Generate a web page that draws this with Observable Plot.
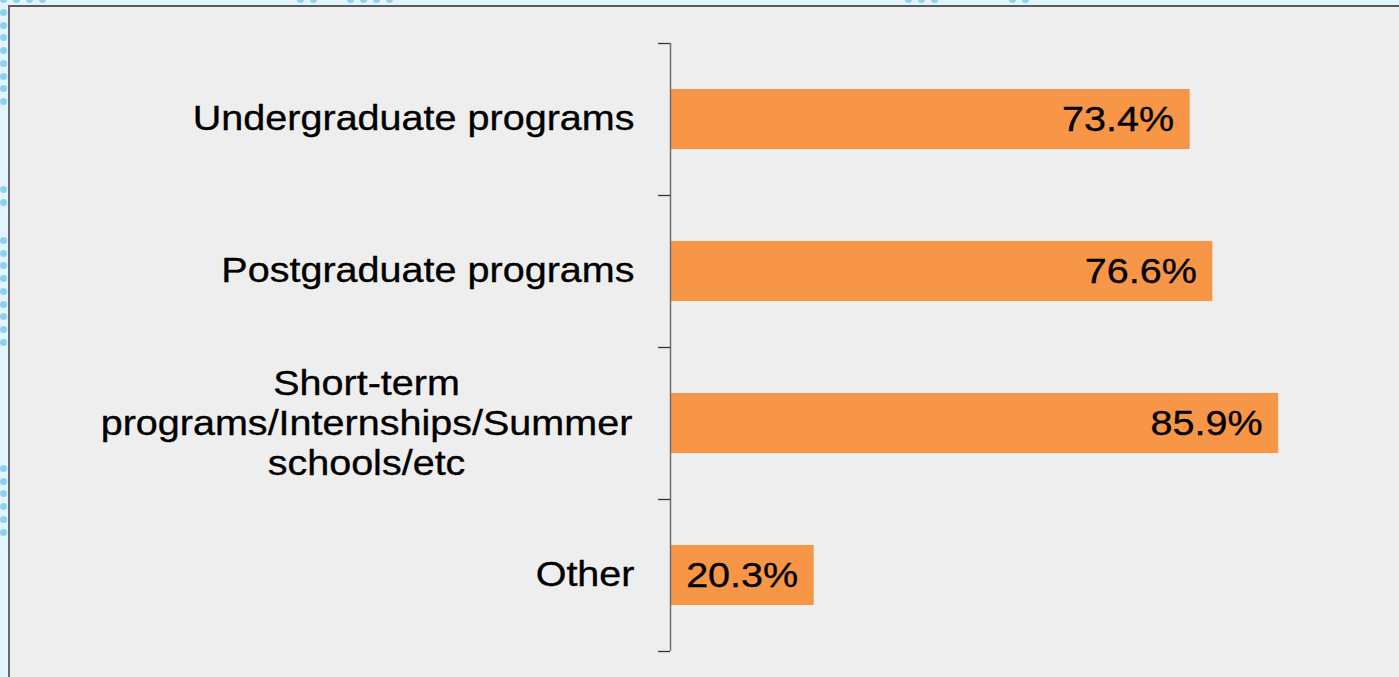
<!DOCTYPE html>
<html>
<head>
<meta charset="utf-8">
<script src="https://cdn.jsdelivr.net/npm/d3@7"></script>
<script src="https://cdn.jsdelivr.net/npm/@observablehq/plot@0.6"></script>
<style>
  html, body { margin: 0; padding: 0; }
  body { width: 1399px; height: 677px; position: relative; overflow: hidden; background: #e2f4fd; }
  #panel { position: absolute; left: 8px; top: 5px; right: 0; bottom: 0; background: #eeeeee;
           border-left: 2px solid #6a6a6a; border-top: 2px solid #5a5a5a; }
  .dot { position: absolute; width: 7px; height: 7px; border-radius: 50%; background: #8ed1f1; }
  #chart { position: absolute; left: 0; top: 0; }
</style>
</head>
<body>
<div id="panel"></div>
<div id="chart"></div>
<script>
// Data
const categories = [
  "Undergraduate programs",
  "Postgraduate programs",
  "Short-term\nprograms/Internships/Summer\nschools/etc",
  "Other"
];
const values = [73.4, 76.6, 85.9, 20.3];

const data = categories.map((c, i) => ({category: c, value: values[i]}));

// decorative dots in the light-blue frame
const leftDots = [[12, 8], [189, 2], [240, 9], [468, 6]];
const topDots = [[3, 4], [300, 2], [350, 4], [908, 3], [1012, 2]];
const body = document.body;
for (const [start, n] of leftDots) for (let k = 0; k < n; k++) {
  const d = document.createElement("div"); d.className = "dot";
  d.style.left = "0px"; d.style.top = (start + k * 12.7 - 3) + "px"; body.appendChild(d);
}
for (const [start, n] of topDots) for (let k = 0; k < n; k++) {
  const d = document.createElement("div"); d.className = "dot";
  d.style.top = "-4px"; d.style.left = (start + k * 13 - 3) + "px"; body.appendChild(d);
}

const W = 1399, H = 677, mT = 43, mB = 26, mL = 670, mR = 21;
const step = (H - mT - mB) / categories.length;
const isMulti = d => d.category.includes("\n");
const font = 35;
const textStyle = {fontSize: font, fill: "#000", stroke: "#000", strokeWidth: 0.35};

const chart = Plot.plot({
  width: W, height: H,
  marginTop: mT, marginBottom: mB, marginLeft: mL, marginRight: mR,
  x: {domain: [0, 100], axis: null},
  y: {domain: categories, paddingInner: 0.605, paddingOuter: 0.3025, round: false, axis: null},
  style: {background: "transparent", fontFamily: "'Liberation Sans', Arial, sans-serif",
          overflow: "visible", color: "#000"},
  marks: [
    Plot.barX(data, {x: "value", y: "category", fill: "#f79646"}),
    Plot.ruleX([0], {stroke: "#6e6e6e", strokeWidth: 1.5}),
    Plot.ruleY(categories, {y: d => d, x1: 0, x2: 0, dy: -step / 2, insetLeft: -12, stroke: "#333", strokeWidth: 1.3}),
    Plot.ruleY(categories.slice(-1), {y: d => d, x1: 0, x2: 0, dy: step / 2, insetLeft: -12, stroke: "#333", strokeWidth: 1.3}),
    Plot.text(data.filter(d => !isMulti(d)), {x: 0, y: "category", text: "category", textAnchor: "end",
      dx: -36, dy: -1, ...textStyle}),
    Plot.text(data.filter(isMulti), {x: 0, y: "category", text: "category", textAnchor: "middle",
      dx: -304, dy: -1, lineHeight: 1.143, ...textStyle}),
    Plot.text(data, {x: "value", y: "category", text: d => d.value.toFixed(1) + "%", textAnchor: "end",
      dx: -16, dy: 0, ...textStyle})
  ]
});
// the reference glyphs are horizontally widened
d3.select(chart).selectAll("text").each(function() {
  const t = this.getAttribute("transform") || "";
  this.setAttribute("transform", t + " scale(1.13,1)");
});
document.getElementById("chart").appendChild(chart);
</script>
</body>
</html>
